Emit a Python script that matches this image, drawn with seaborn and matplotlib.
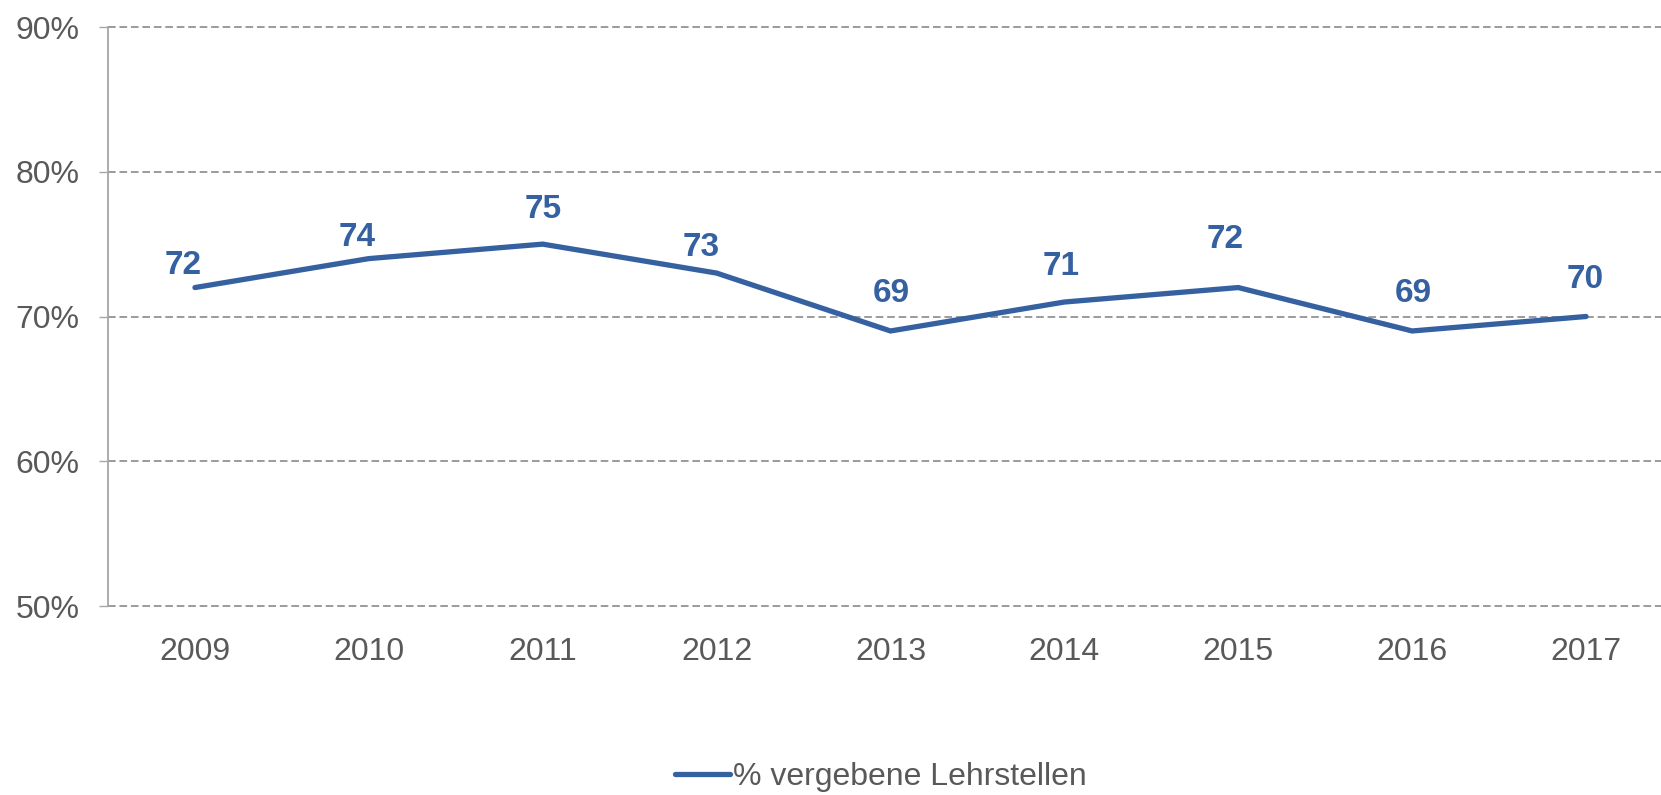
import matplotlib
matplotlib.use("Agg")
import matplotlib.pyplot as plt
from matplotlib.ticker import FuncFormatter
import seaborn as sns
import pandas as pd

# ----------------------------------------------------------------------
# Data
# ----------------------------------------------------------------------
years = ["2009", "2010", "2011", "2012", "2013", "2014", "2015", "2016", "2017"]
vergeben = [72, 74, 75, 73, 69, 71, 72, 69, 70]
series_name = "% vergebene Lehrstellen"
y_ticks = [50, 60, 70, 80, 90]

# label offsets (pixels from point to label centre)
label_dx = [-12, -12, 0, -15, 1, -3, -13, 1, -1]
label_dy = [22, 21, 35, 26, 37, 36, 48, 37, 37]

BLUE = "#3561A1"
GREY_TXT = "#595959"

df = pd.DataFrame({"Jahr": years, "Wert": vergeben})

sns.set_style("white")
plt.rcParams["font.family"] = ["Liberation Sans", "DejaVu Sans"]

W, H = 1661, 795
fig = plt.figure(figsize=(W / 100, H / 100), dpi=100)
ax = fig.add_axes([108 / W, 1 - 606 / H, 1565 / W, (606 - 27) / H])

sns.lineplot(data=df, x="Jahr", y="Wert", ax=ax, color=BLUE, linewidth=3.8,
             label=series_name, solid_capstyle="round", solid_joinstyle="miter",
             legend=False)

for i, v in enumerate(vergeben):
    ax.annotate(str(v), xy=(i, v), xytext=(label_dx[i], label_dy[i]),
                textcoords="offset pixels", ha="center", va="center",
                fontsize=24, fontweight="bold", color=BLUE)

ax.set_xlim(-0.5, len(years) - 0.5)
ax.set_ylim(50, 90)
ax.set_yticks(y_ticks)
ax.yaxis.set_major_formatter(FuncFormatter(lambda v, _: f"{v:.0f}%"))
ax.set_xlabel("")
ax.set_ylabel("")

ax.grid(axis="y", color="#808080", linestyle=(0, (5, 2.5)), linewidth=1.1)
ax.grid(axis="x", visible=False)
ax.set_axisbelow(True)
for gl in ax.get_ygridlines():
    gl.set_clip_on(False)

for s in ["top", "right", "bottom"]:
    ax.spines[s].set_visible(False)
ax.spines["left"].set_color("#A6A6A6")
ax.spines["left"].set_linewidth(1.3)

ax.tick_params(axis="y", length=6.5, width=1.0, color="#A6A6A6", pad=14,
               labelsize=23, labelcolor=GREY_TXT, left=True)
ax.tick_params(axis="x", length=0, pad=22, labelsize=23, labelcolor=GREY_TXT)

handles, labels = ax.get_legend_handles_labels()
fig.legend(handles, labels, loc="center",
           bbox_to_anchor=(881 / W, 1 - 777 / H), bbox_transform=fig.transFigure,
           frameon=False, fontsize=23, handlelength=1.7, handletextpad=0.1,
           labelcolor=GREY_TXT)

fig.savefig("out.png", dpi=100)
